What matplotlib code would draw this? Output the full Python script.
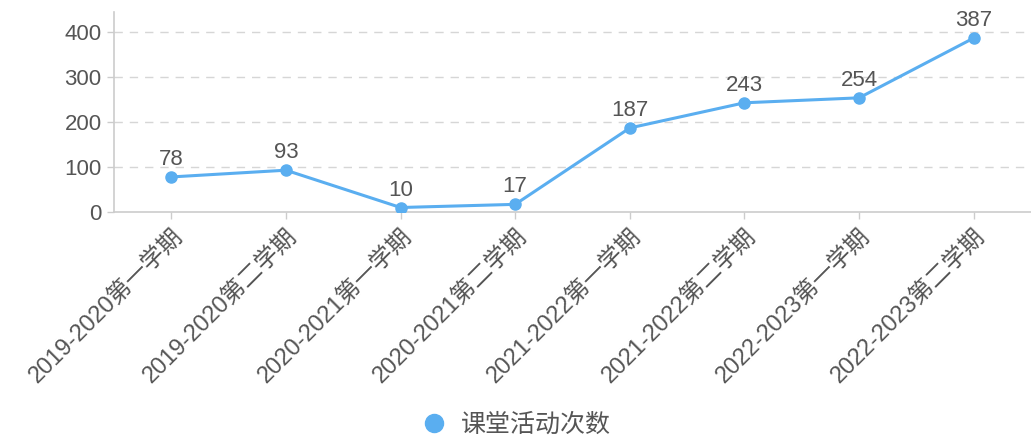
import matplotlib
matplotlib.use("Agg")
import matplotlib.pyplot as plt
from matplotlib.lines import Line2D

plt.rcParams['font.family'] = ['Liberation Sans', 'Noto Sans CJK SC', 'DejaVu Sans']

semesters = ["2019-2020第一学期", "2019-2020第二学期", "2020-2021第一学期", "2020-2021第二学期",
             "2021-2022第一学期", "2021-2022第二学期", "2022-2023第一学期", "2022-2023第二学期"]
counts = [78, 93, 10, 17, 187, 243, 254, 387]
yticks = [0, 100, 200, 300, 400]
series_name = "课堂活动次数"

blue = "#5aaef0"
axis_gray = "#cccccc"
text_gray = "#555555"

W, H = 1031, 442
fig = plt.figure(figsize=(W / 100, H / 100), dpi=100)
ax = fig.add_axes([114 / W, (H - 212) / H, 1 - 114 / W, 200 / H])

x = list(range(len(counts)))
ax.plot(x, counts, color=blue, lw=2.2, marker="o", ms=8, zorder=3)
for xi, v in zip(x, counts):
    ax.annotate(str(v), (xi, v), xytext=(0, 5), textcoords="offset points",
                ha="center", va="bottom", fontsize=16, color=text_gray)

ax.set_xlim(-0.5, len(counts) - 0.5)
ax.set_ylim(0, 445)
ax.set_yticks(yticks)
ax.set_yticklabels([str(t) for t in yticks], fontsize=16, color=text_gray)
ax.set_xticks(x)
ax.set_xticklabels(semesters, rotation=45, ha="right", rotation_mode="anchor",
                   fontsize=17, color=text_gray)

for t in yticks[1:]:
    ax.axhline(t, color="#d6d6d6", lw=1, ls=(0, (6, 5)), zorder=1)

for s in ["top", "right"]:
    ax.spines[s].set_visible(False)
for s in ["left", "bottom"]:
    ax.spines[s].set_color(axis_gray)
    ax.spines[s].set_linewidth(1.2)
ax.tick_params(axis="both", color=axis_gray, length=5, width=1, pad=4)

handle = Line2D([], [], color=blue, marker="o", ls="none", ms=13)
fig.legend([handle], [series_name], loc="center", bbox_to_anchor=(510 / W, (H - 425) / H),
           frameon=False, fontsize=18, handletextpad=0.1, labelcolor=text_gray)

fig.savefig("out.png", dpi=100)
